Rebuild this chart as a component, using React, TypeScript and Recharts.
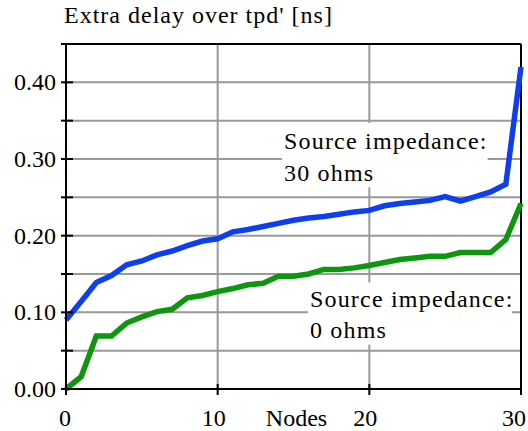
import React from 'react';
import { LineChart, Line, XAxis, YAxis, CartesianGrid, ReferenceArea, ReferenceLine } from 'recharts';

// Node index along the net
const nodes = Array.from({ length: 31 }, (_, i) => i);

// Extra delay over tpd' [ns], source impedance 30 ohms
const delay30 = [
  0.090, 0.114, 0.139, 0.148, 0.162, 0.167, 0.175, 0.180, 0.187, 0.193,
  0.196, 0.205, 0.208, 0.212, 0.216, 0.220, 0.223, 0.225, 0.228, 0.231,
  0.233, 0.239, 0.242, 0.244, 0.246, 0.251, 0.245, 0.251, 0.257, 0.267,
  0.420,
];

// Extra delay over tpd' [ns], source impedance 0 ohms
const delay0 = [
  0.000, 0.016, 0.069, 0.069, 0.086, 0.094, 0.101, 0.104, 0.119, 0.122,
  0.127, 0.131, 0.136, 0.138, 0.147, 0.147, 0.150, 0.156, 0.156, 0.158,
  0.161, 0.165, 0.169, 0.171, 0.173, 0.173, 0.178, 0.178, 0.178, 0.195,
  0.242,
];

const xTicks = [0, 10, 20, 30];
const yTicks = [0, 0.05, 0.1, 0.15, 0.2, 0.25, 0.3, 0.35, 0.4, 0.45];
const yLabels = ['0.00', '', '0.10', '', '0.20', '', '0.30', '', '0.40', ''];

const title = "Extra delay over tpd' [ns]";
const xTitle = 'Nodes';
const note30 = ['Source impedance:', '30 ohms'];
const note0 = ['Source impedance:', '0 ohms'];

const data = nodes.map((n, i) => ({ node: n, z30: delay30[i], z0: delay0[i] }));

const FONT = "'Liberation Serif', 'Times New Roman', serif";
const txt = { fontFamily: FONT, fontSize: 24, fill: '#000' };

const YTick = (props: any) => {
  const { x, y, index } = props;
  const label = yLabels[index];
  return (
    <g>
      <line x1={x - 5} x2={x + 7} y1={y} y2={y} stroke="#000" strokeWidth={2} />
      {label && (
        <text x={x - 10} y={y + 8} textAnchor="end" style={txt}>
          {label}
        </text>
      )}
    </g>
  );
};

const xShift = [-1, -4, -4, -7];

const XTick = (props: any) => {
  const { x, y, index, payload } = props;
  return (
    <g>
      <line x1={x} x2={x} y1={y - 5} y2={y + 6} stroke="#000" strokeWidth={2} />
      <text x={x + xShift[index]} y={y + 37} textAnchor="middle" style={txt}>
        {payload.value}
      </text>
    </g>
  );
};

// white text box over the grid, as in the original annotations
const noteBox = (lines: string[], first: number, gap: number) => (props: any) => {
  const { x, y, width, height } = props;
  return (
    <g>
      <rect x={x} y={y} width={width} height={height} fill="#fff" />
      {lines.map((t, i) => (
        <text key={i} x={x + 2} y={y + first + i * gap} style={{ ...txt, letterSpacing: 1.2 }}>
          {t}
        </text>
      ))}
    </g>
  );
};

export default function App() {
  return (
    <div style={{ width: 528, height: 431 }}>
      <style>{`body{margin:0}`}</style>
      <LineChart width={528} height={431} data={data} margin={{ top: 44, right: 7, bottom: 0, left: 0 }}>
        <CartesianGrid stroke="#999" strokeWidth={2} />
        <XAxis
          dataKey="node"
          type="number"
          domain={[0, 30]}
          ticks={xTicks}
          height={42}
          tickSize={0}
          tickMargin={0}
          tickLine={false}
          axisLine={{ stroke: '#000', strokeWidth: 2 }}
          tick={<XTick />}
          interval={0}
          label={{
            content: (p: any) => {
              const vb = p.viewBox || { x: 66, y: 389, width: 455, height: 42 };
              return (
                <text x={vb.x + vb.width / 2 + 3} y={vb.y + 37} textAnchor="middle" style={txt}>
                  {xTitle}
                </text>
              );
            },
          }}
        />
        <YAxis
          type="number"
          domain={[0, 0.45]}
          ticks={yTicks}
          width={66}
          tickSize={0}
          tickMargin={0}
          tickLine={false}
          axisLine={{ stroke: '#000', strokeWidth: 2 }}
          tick={<YTick />}
          interval={0}
          label={{
            content: (p: any) => {
              const vb = p.viewBox || { x: 0, y: 44, width: 66 };
              return (
                <text x={vb.x + vb.width - 2} y={vb.y - 21} style={{ ...txt, letterSpacing: 1 }}>
                  {title}
                </text>
              );
            },
          }}
        />
        <ReferenceLine y={0.45} stroke="#000" strokeWidth={2} />
        <ReferenceLine x={30} stroke="#000" strokeWidth={2} />
        <ReferenceArea x1={14.24} x2={27.8} y1={0.263} y2={0.347} shape={noteBox(note30, 26, 32)} />
        <ReferenceArea x1={15.95} x2={29.4} y1={0.058} y2={0.139} shape={noteBox(note0, 25, 31)} />
        <Line type="linear" dataKey="z30" stroke="#0d3ff0" strokeWidth={5.5} dot={false} isAnimationActive={false} />
        <Line type="linear" dataKey="z0" stroke="#0f960f" strokeWidth={5.5} dot={false} isAnimationActive={false} />
      </LineChart>
    </div>
  );
}
